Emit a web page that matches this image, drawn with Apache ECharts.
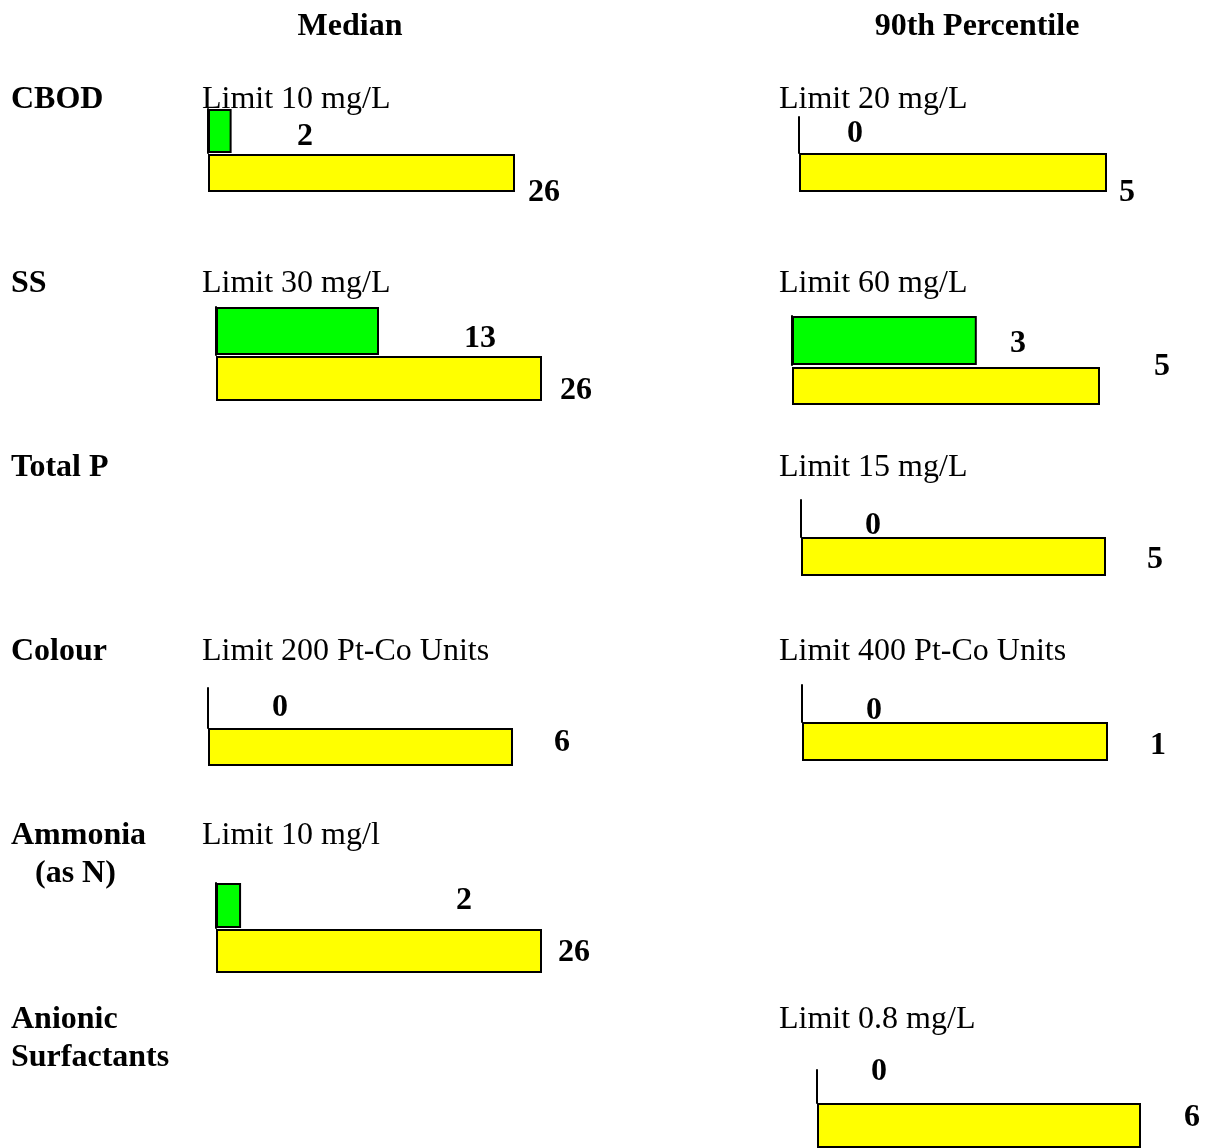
<!DOCTYPE html>
<html>
<head>
<meta charset="utf-8">
<script src="https://cdn.jsdelivr.net/npm/echarts@6/dist/echarts.min.js"></script>
<style>
  html, body { margin: 0; padding: 0; background: #ffffff; }
  #chart { width: 1211px; height: 1148px; }
</style>
</head>
<body>
<div id="chart"></div>
<script>
// Parameters (row labels, one entry per line of text)
const parameters = [['CBOD'], ['SS'], ['Total P'], ['Colour'], ['Ammonia', '(as N)'], ['Anionic', 'Surfactants']];
const columnTitles = ['Median', '90th Percentile'];

// Consent limits shown above each panel (null = no panel)
const medianLimits = ['Limit 10 mg/L', 'Limit 30 mg/L', null, 'Limit 200 Pt-Co Units', 'Limit 10 mg/l', null];
const p90Limits = ['Limit 20 mg/L', 'Limit 60 mg/L', 'Limit 15 mg/L', 'Limit 400 Pt-Co Units', null, 'Limit 0.8 mg/L'];

// Exceedances (green) and number of samples (yellow)
const medianExceed = [2, 13, null, 0, 2, null];
const medianSamples = [26, 26, null, 6, 26, null];
const p90Exceed = [0, 3, 0, 0, null, 0];
const p90Samples = [5, 5, 5, 1, null, 6];

// Panel geometry: bar left/right edge, green band, yellow band, label anchor points
const medianLayout = [
  { left: 208, right: 515, g: [109, 153], y: [154, 192], gl: [297, 134], yl: [528, 190] },
  { left: 216, right: 542, g: [307, 355], y: [356, 401], gl: [464, 336], yl: [560, 388] },
  null,
  { left: 208, right: 513, g: [688, 728], y: [728, 766], gl: [273, 705], yl: [554, 740] },
  { left: 216, right: 542, g: [883, 928], y: [929, 973], gl: [456, 898], yl: [558, 950] },
  null
];
const p90Layout = [
  { left: 799, right: 1107, g: [117, 153], y: [153, 192], gl: [848, 131], yl: [1119, 190] },
  { left: 792, right: 1100, g: [316, 365], y: [367, 405], gl: [1010, 341], yl: [1154, 364] },
  { left: 801, right: 1106, g: [500, 537], y: [537, 576], gl: [866, 523], yl: [1147, 557] },
  { left: 802, right: 1108, g: [685, 722], y: [722, 761], gl: [867, 708], yl: [1150, 743] },
  null,
  { left: 817, right: 1141, g: [1070, 1103], y: [1103, 1152], gl: [872, 1069], yl: [1184, 1117] }
];

const FONT = '"Liberation Serif", "Times New Roman", serif';
const TEXT_DY = 3;          // nudge so the cap height sits on the anchor line
const GREEN = '#00ff00';
const YELLOW = '#ffff00';

const grids = [], xAxes = [], yAxes = [], series = [], graphics = [];

function addText(text, x, y, bold, align) {
  graphics.push({
    type: 'text',
    style: {
      text: text, x: x, y: y + TEXT_DY,
      font: (bold ? 'bold ' : '') + '32px ' + FONT,
      fill: '#000000',
      align: align || 'left',
      verticalAlign: 'middle'
    }
  });
}

function addBar(value, max, left, right, band, labelPos, color, showAxisLine) {
  const idx = grids.length;
  const top = band[0], height = band[1] - band[0];
  grids.push({ left: left, top: top, width: right - left, height: height });
  xAxes.push({ gridIndex: idx, type: 'value', min: 0, max: max, show: false });
  yAxes.push({
    gridIndex: idx, type: 'category', data: ['v'],
    axisLine: { show: showAxisLine, lineStyle: { color: '#000000', width: 2 } },
    axisTick: { show: false }, axisLabel: { show: false }, splitLine: { show: false }
  });
  series.push({
    type: 'bar', xAxisIndex: idx, yAxisIndex: idx,
    barWidth: '100%', animation: false, silent: true, clip: false,
    data: [value],
    itemStyle: { color: color, borderColor: '#000000', borderWidth: 2 },
    label: {
      show: true, position: 'insideLeft', distance: 0,
      offset: [labelPos[0] - left, labelPos[1] + TEXT_DY - (top + height / 2)],
      formatter: p => String(p.value),
      fontFamily: FONT, fontWeight: 'bold', fontSize: 32, color: '#000000'
    }
  });
}

function addPanel(exceed, samples, layout) {
  if (!layout || samples == null) return;
  addBar(exceed, samples, layout.left, layout.right, layout.g, layout.gl, GREEN, true);
  addBar(samples, samples, layout.left, layout.right, layout.y, layout.yl, YELLOW, false);
}

// Column headers
addText(columnTitles[0], 350, 24, true, 'center');
addText(columnTitles[1], 977, 24, true, 'center');

// Rows
const rowTop = 97, rowStep = 184;
parameters.forEach((lines, i) => {
  const y = rowTop + i * rowStep;
  lines.forEach((t, j) => addText(t, j > 0 && i === 4 ? 35 : 11, y + j * 38, true));
  if (medianLimits[i]) addText(medianLimits[i], 202, y, false);
  if (p90Limits[i]) addText(p90Limits[i], 779, y, false);
  addPanel(medianExceed[i], medianSamples[i], medianLayout[i]);
  addPanel(p90Exceed[i], p90Samples[i], p90Layout[i]);
});

const chart = echarts.init(document.getElementById('chart'), null, { renderer: 'canvas' });
chart.setOption({
  backgroundColor: '#ffffff',
  animation: false,
  grid: grids,
  xAxis: xAxes,
  yAxis: yAxes,
  series: series,
  graphic: graphics
});
</script>
</body>
</html>
